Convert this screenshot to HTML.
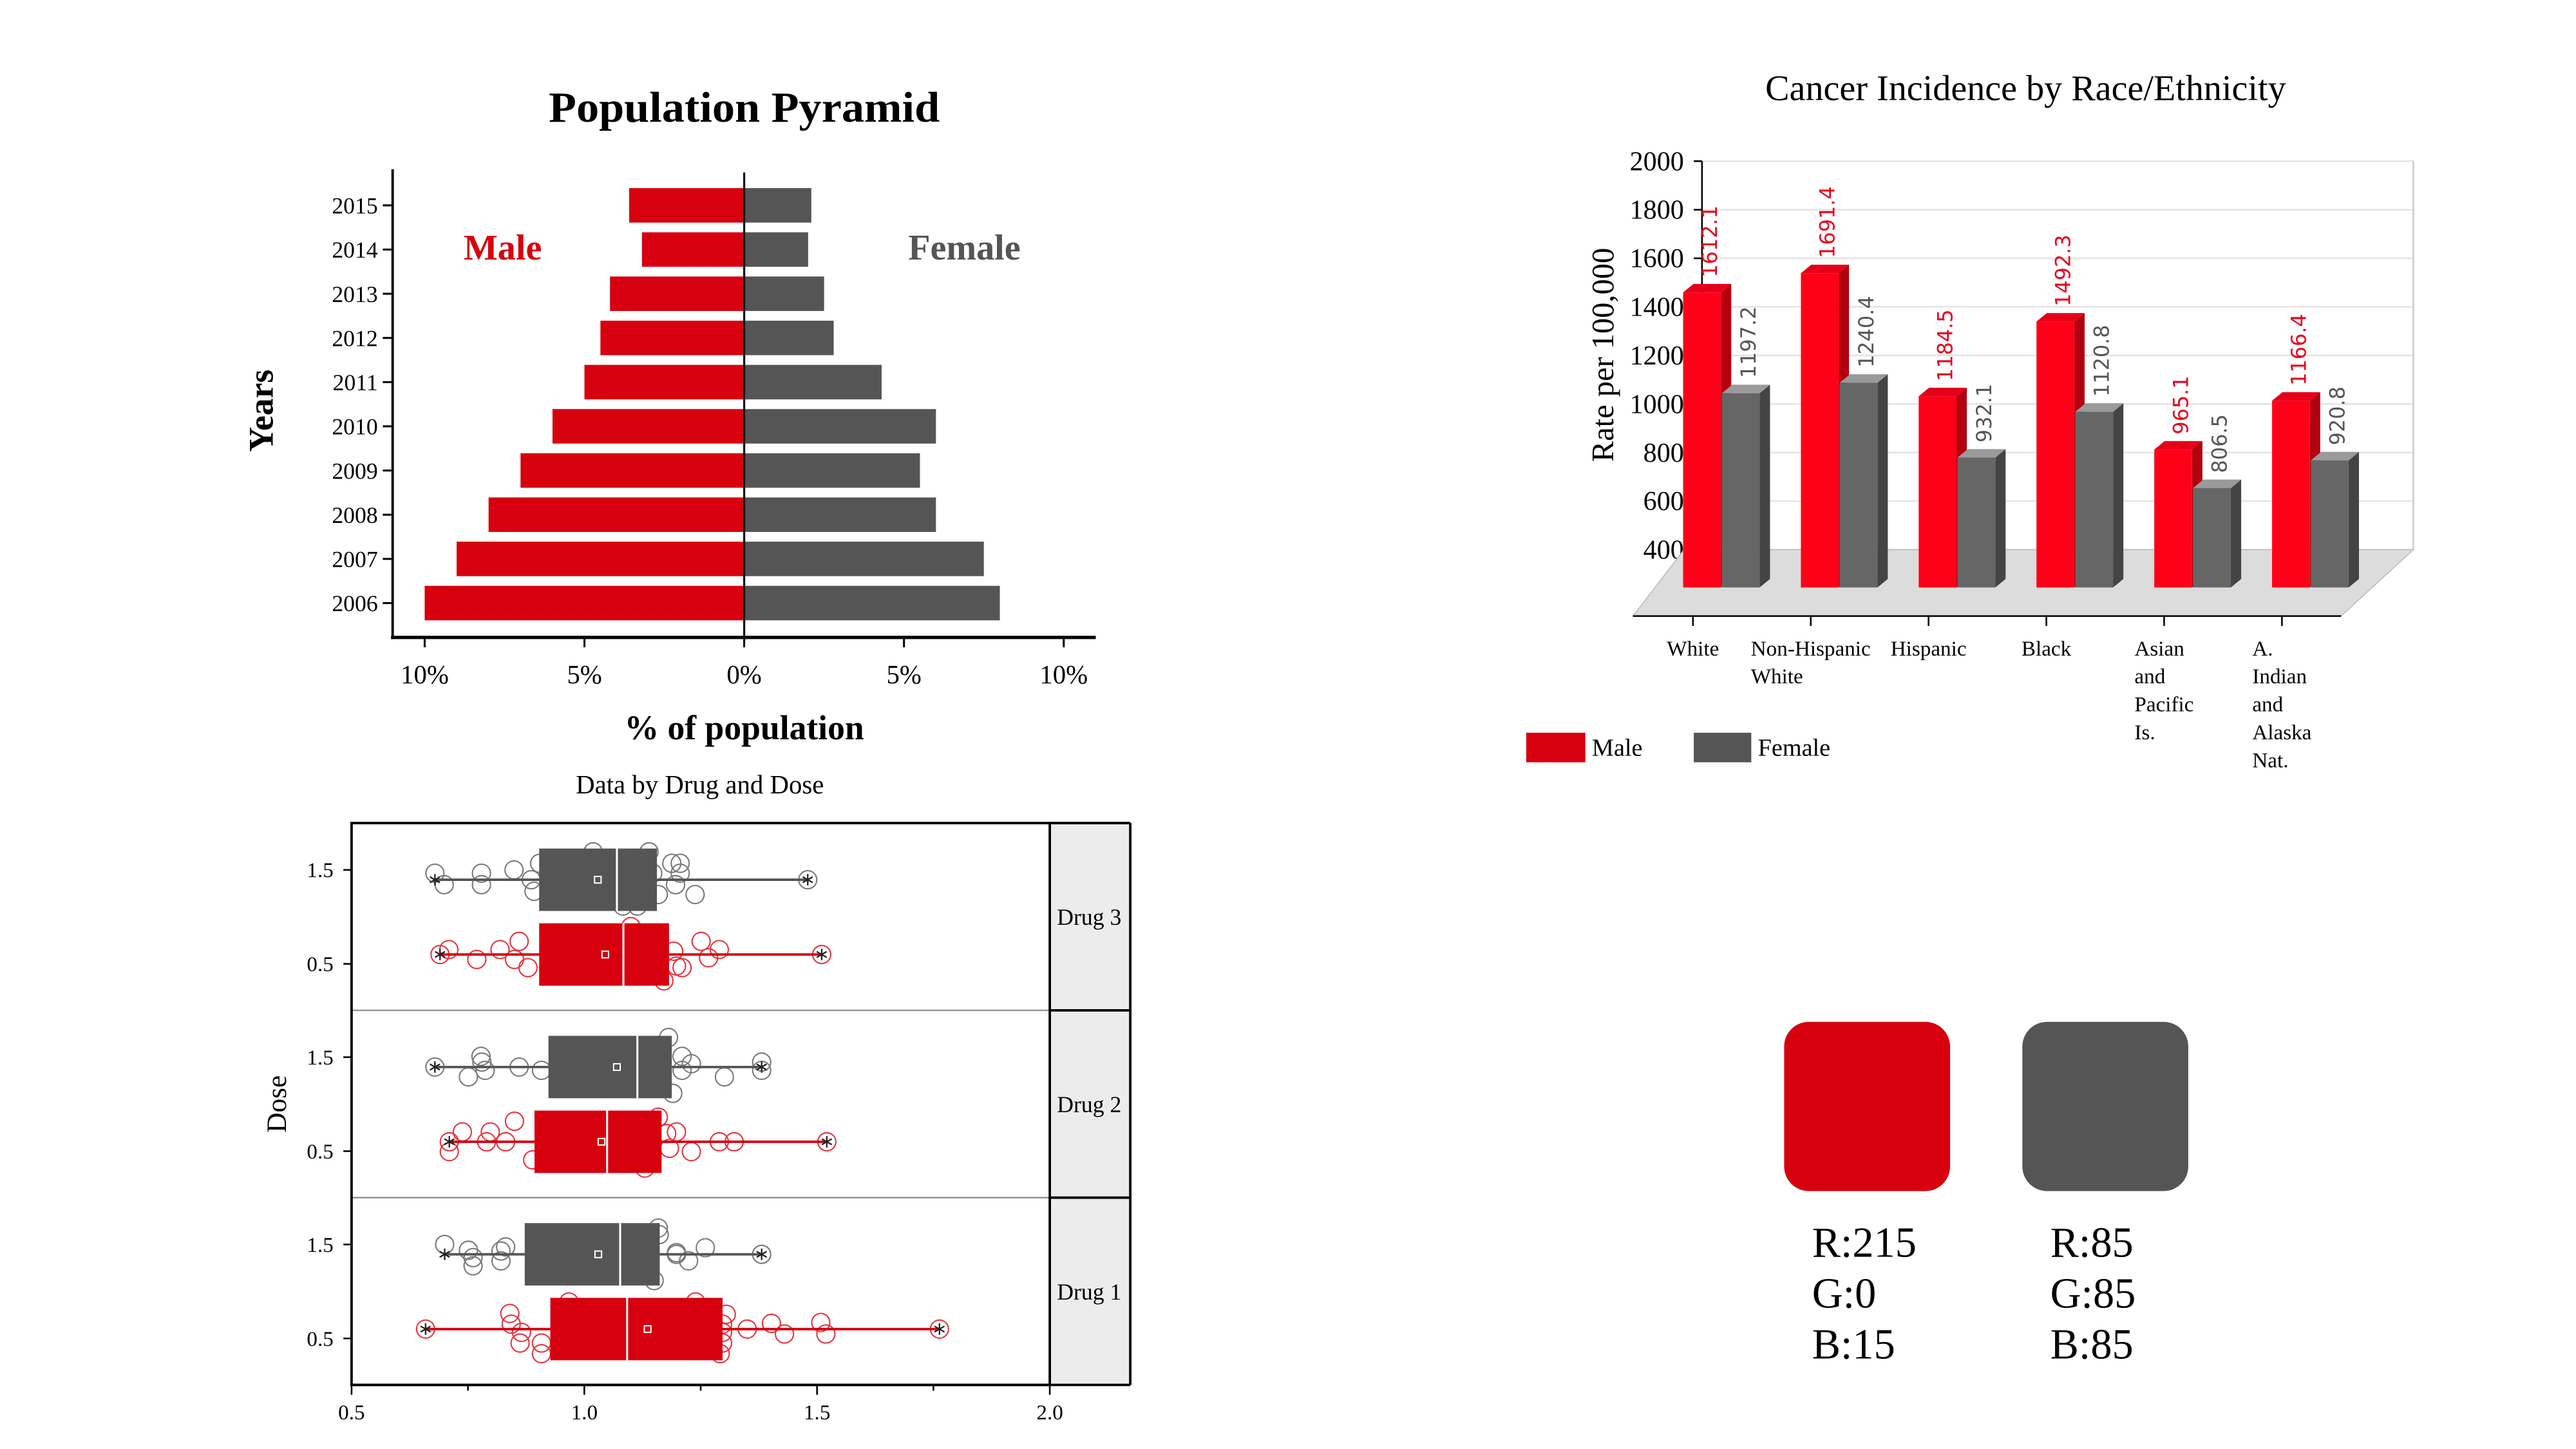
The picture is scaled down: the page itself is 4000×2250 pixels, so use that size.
<!DOCTYPE html>
<html><head><meta charset="utf-8"><style>
html,body{margin:0;padding:0;background:#fff;}
svg{display:block;}
text{font-family:"Liberation Serif",serif;}
</style></head><body>
<svg id="root" width="4000" height="2250" viewBox="0 0 1568 882" xmlns="http://www.w3.org/2000/svg">
<rect width="1568" height="882" fill="#fff"/>
<g id="pyr"></g>
<g id="can"></g>
<g id="box"></g>
<g id="sw">
  <rect x="1086" y="622" width="101" height="103" rx="15" fill="#d7000f"/>
  <rect x="1231" y="622" width="101" height="103" rx="15" fill="#555555"/>
  <text x="1103" y="765" font-size="26">R:215</text>
  <text x="1103" y="796" font-size="26">G:0</text>
  <text x="1103" y="827" font-size="26">B:15</text>
  <text x="1248" y="765" font-size="26">R:85</text>
  <text x="1248" y="796" font-size="26">G:85</text>
  <text x="1248" y="827" font-size="26">B:85</text>
</g>
</svg>
<script>
// ---------- Population pyramid data ----------
const pyrYears = [2015,2014,2013,2012,2011,2010,2009,2008,2007,2006];
const pyrMale = [3.6,3.2,4.2,4.5,5.0,6.0,7.0,8.0,9.0,10.0];
const pyrFemale = [2.1,2.0,2.5,2.8,4.3,6.0,5.5,6.0,7.5,8.0];
const pyrTicks = [-10,-5,0,5,10];
const pyrTickLabels = ["10%","5%","0%","5%","10%"];

// ---------- Cancer chart data ----------
const canCats = [["White"],["Non-Hispanic","White"],["Hispanic"],["Black"],["Asian","and","Pacific","Is."],["A.","Indian","and","Alaska","Nat."]];
const canMale = [1612.1,1691.4,1184.5,1492.3,965.1,1166.4];
const canFemale = [1197.2,1240.4,932.1,1120.8,806.5,920.8];
const canTicks = [400,600,800,1000,1200,1400,1600,1800,2000];

// ---------- Boxplot data ----------
const boxDrugs = ["Drug 1","Drug 2","Drug 3"];
const boxDoseTicks = ["1.5","0.5"];
const boxXTicks = [0.5,1.0,1.5,2.0];
// stats: [whiskerLo, q1, median, q3, whiskerHi, mean]
const statsGray = [[0.700,0.872,1.077,1.162,1.381,1.030],[0.679,0.923,1.114,1.188,1.381,1.070],[0.679,0.903,1.070,1.156,1.480,1.029]];
const statsRed  = [[0.659,0.927,1.092,1.297,1.763,1.136],[0.710,0.893,1.049,1.166,1.521,1.037],[0.690,0.903,1.084,1.182,1.510,1.045]];
const ptsGrayVal = [
 [0.700,0.751,0.761,0.761,0.821,0.821,0.831,1.159,1.161,1.198,1.198,1.224,1.260,1.150,1.381],
 [0.679,0.778,0.780,0.787,0.751,0.860,0.908,1.181,1.210,1.230,1.210,1.301,1.190,1.381,1.381],
 [0.679,0.699,0.779,0.779,0.849,0.886,0.892,0.904,1.019,1.139,1.147,1.159,1.188,1.206,1.206,1.196,1.238,1.083,1.114,1.480]];
const ptsGrayJit = [
 [-6,-2.5,2,7,-2,4,-4.5,-16,-12,-1,0,4,-4,16,0],
 [0,-6.5,-3,2,6,0,2,-18,-6.5,-2,2,6,16,-3,2],
 [-4,3,-4,3,-6,0,7,-10,-17,-17,-4,9,-10,-10,-4,3,9,16,16,0]];
const ptsRedVal = [
 [0.659,0.840,0.843,0.865,0.862,0.908,0.908,0.967,1.239,1.305,1.297,1.297,1.297,1.292,1.350,1.402,1.430,1.508,1.519,1.763],
 [0.710,0.710,0.738,0.798,0.790,0.831,0.850,0.889,1.159,1.177,1.198,1.183,1.230,1.290,1.322,1.130,1.521],
 [0.690,0.709,0.769,0.819,0.850,0.860,0.879,1.100,1.192,1.198,1.210,1.171,1.251,1.267,1.290,1.510]];
const ptsRedJit = [
 [0,-9.5,-3,2,8.5,8.5,15,-16.5,-16.5,-9,-3,2,8.5,15,0,-3.5,3,-4,3,0],
 [0,6,-6,-6,0,0,-12.5,11,-15,-5,-6,4,6,0,0,16,0],
 [0,-3,3,-3,3,-8,8,-17,-2,7,8,16,-8,2,-3,0]];

const NS="http://www.w3.org/2000/svg";
function mk(parent,tag,attrs,txt){const e=document.createElementNS(NS,tag);for(const k in attrs)e.setAttribute(k,attrs[k]);if(txt!==undefined)e.textContent=txt;parent.appendChild(e);return e;}

// ================= Pyramid =================
(function(){
 const g=document.getElementById('pyr');
 const x0=453, unit=19.45, yTop=125, step=26.9, bh=21;
 const px=v=>x0+v*unit, py=i=>yTop+i*step;
 let t=mk(g,'text',{x:453,y:74,'font-size':26,'font-weight':'bold','text-anchor':'middle',textLength:238,lengthAdjust:'spacingAndGlyphs'},'Population Pyramid');
 
 
 pyrYears.forEach((yr,i)=>{
  let r=mk(g,'rect',{x:px(-pyrMale[i]),y:py(i)-bh/2,width:pyrMale[i]*unit,height:bh,fill:'#d7000f'});
  
  
  r=mk(g,'rect',{x:x0,y:py(i)-bh/2,width:pyrFemale[i]*unit,height:bh,fill:'#555555'});
  
  
  mk(g,'line',{x1:233,x2:239,y1:py(i),y2:py(i),stroke:'#000','stroke-width':1.2});
  let l=mk(g,'text',{x:230,y:py(i)+5,'font-size':14,'text-anchor':'end'},String(yr));
  
  
 });
 mk(g,'line',{x1:x0,x2:x0,y1:105,y2:388,stroke:'#000','stroke-width':1.2});
 mk(g,'line',{x1:239,x2:239,y1:103,y2:389,stroke:'#000','stroke-width':1.5});
 mk(g,'line',{x1:238,x2:667,y1:388,y2:388,stroke:'#000','stroke-width':2});
 pyrTicks.forEach((v,i)=>{
  mk(g,'line',{x1:px(v),x2:px(v),y1:388,y2:394,stroke:'#000','stroke-width':1.2});
  let l=mk(g,'text',{x:px(v),y:416,'font-size':16,'text-anchor':'middle'},pyrTickLabels[i]);
  
  
 });
 t=mk(g,'text',{x:453,y:450,'font-size':21,'font-weight':'bold','text-anchor':'middle'},'% of population');
 
 
 t=mk(g,'text',{x:0,y:0,'font-size':21,'font-weight':'bold','text-anchor':'middle',transform:'translate(166,250) rotate(-90)'},'Years');
 
 
 t=mk(g,'text',{x:306,y:158,'font-size':22,'font-weight':'bold','text-anchor':'middle',fill:'#d7000f'},'Male');
 
 
 t=mk(g,'text',{x:587,y:158,'font-size':22,'font-weight':'bold','text-anchor':'middle',fill:'#555555'},'Female');
 
 
})();

// ================= Cancer 3D bars =================
(function(){
 const g=document.getElementById('can');
 const yb=v=>334.6-(v-400)*(236.5/1600);
 const tick0=1030.5, tstep=71.7, bw=23, dx=6.3, dy=5.2, front=22.6, base=357.6;
 let t=mk(g,'text',{x:1233,y:61,'font-size':22,'text-anchor':'middle'},'Cancer Incidence by Race/Ethnicity');
 
 
 canTicks.forEach(v=>{
  mk(g,'line',{x1:1036,x2:1469,y1:yb(v),y2:yb(v),stroke:'#e4e4e4','stroke-width':1});
  mk(g,'line',{x1:1031,x2:1036,y1:yb(v),y2:yb(v),stroke:'#000','stroke-width':1});
  let l=mk(g,'text',{x:1025,y:yb(v)+5.5,'font-size':16.5,'text-anchor':'end'},String(v));
  
  
 });
 mk(g,'line',{x1:1469,x2:1469,y1:yb(2000),y2:yb(400),stroke:'#ccc','stroke-width':1});
 mk(g,'line',{x1:1036,x2:1036,y1:yb(2000),y2:yb(400),stroke:'#000','stroke-width':1});
 let f=mk(g,'polygon',{points:'1025,334.6 1469,334.6 1425,375 994,375',fill:'#dcdcdc',stroke:'#bbb','stroke-width':0.6});
 
 
 mk(g,'line',{x1:994,x2:1425,y1:375,y2:375,stroke:'#000','stroke-width':1});
 function bar(x,v,cF,cT,cS,name){
  const top=yb(v)+front;
  let s=mk(g,'polygon',{points:`${x+bw},${top} ${x+bw+dx},${top-dy} ${x+bw+dx},${base-dy} ${x+bw},${base}`,fill:cS});
  
  
  let tp=mk(g,'polygon',{points:`${x},${top} ${x+dx},${top-dy} ${x+bw+dx},${top-dy} ${x+bw},${top}`,fill:cT});
  
  
  let r=mk(g,'rect',{x:x,y:top,width:bw,height:base-top,fill:cF});
  
  
  return top;
 }
 canCats.forEach((lines,i)=>{
  const tx=tick0+i*tstep;
  const mx=tx-6, fx=mx+bw+0.6;
  let top=bar(mx,canMale[i],'#fe0018','#e5001a','#b3000f','male-bar-'+i);
  let l=mk(g,'text',{x:0,y:0,'font-size':12.5,fill:'#e8001c',style:'font-family:"DejaVu Sans",sans-serif',transform:`translate(${mx+bw/2+9},${top-dy-4}) rotate(-90)`},canMale[i].toFixed(1));
  
  
  top=bar(fx,canFemale[i],'#666666','#9a9a9a','#444444','female-bar-'+i);
  l=mk(g,'text',{x:0,y:0,'font-size':12.5,fill:'#555',style:'font-family:"DejaVu Sans",sans-serif',transform:`translate(${fx+bw/2+9},${top-dy-4}) rotate(-90)`},canFemale[i].toFixed(1));
  
  
  mk(g,'line',{x1:tx,x2:tx,y1:375,y2:381,stroke:'#000','stroke-width':1});
  const grp=mk(g,'g',{});
  
  
  const tes=lines.map((ln,j)=>mk(grp,'text',{x:0,y:399+j*17,'font-size':13},ln));
  let w=Math.max(...tes.map(e=>e.getComputedTextLength()));
  tes.forEach(e=>e.setAttribute('x',tx-w/2));
 });
 t=mk(g,'text',{x:0,y:0,'font-size':19,'text-anchor':'middle',transform:'translate(982,216) rotate(-90)'},'Rate per 100,000');
 
 
 let lg=mk(g,'rect',{x:929,y:446,width:36,height:18,fill:'#d7000f'});
 
 
 t=mk(g,'text',{x:969,y:460,'font-size':15},'Male');
 
 
 lg=mk(g,'rect',{x:1031,y:446,width:35,height:18,fill:'#555555'});
 
 
 t=mk(g,'text',{x:1070,y:460,'font-size':15},'Female');
 
 
})();

// ================= Boxplot =================
(function(){
 const g=document.getElementById('box');
 const L=214,R=639,S=688,T=501,B=843,ph=114;
 const xs=v=>L+(v-0.5)*(R-L)/1.5;
 let t=mk(g,'text',{x:426,y:483,'font-size':16,'text-anchor':'middle'},'Data by Drug and Dose');
 
 
 let st=mk(g,'rect',{x:R,y:T,width:S-R,height:B-T,fill:'#ececec'});
 
 
 for(let k=1;k<3;k++){
  mk(g,'line',{x1:L,x2:R,y1:T+k*ph,y2:T+k*ph,stroke:'#999','stroke-width':1});
  mk(g,'line',{x1:R,x2:S,y1:T+k*ph,y2:T+k*ph,stroke:'#000','stroke-width':1.5});
 }
 function asterisk(x,y,c){
  for(let a=0;a<3;a++){const an=a*Math.PI/3+Math.PI/2;mk(g,'line',{x1:x-3.5*Math.cos(an),y1:y-3.5*Math.sin(an),x2:x+3.5*Math.cos(an),y2:y+3.5*Math.sin(an),stroke:c,'stroke-width':0.9});}
 }
 function drawBox(s,vals,jit,cy,col,name){
  vals.forEach((v,i)=>{
   let c=mk(g,'circle',{cx:xs(v),cy:cy+jit[i],r:5.5,fill:'none',stroke:col==='#d7000f'?'#e8303a':'#777','stroke-width':0.8});
   
   
  });
  let w=mk(g,'line',{x1:xs(s[0]),x2:xs(s[4]),y1:cy,y2:cy,stroke:col,'stroke-width':1.5});
  
  
  asterisk(xs(s[0]),cy,'#222');asterisk(xs(s[4]),cy,'#222');
  let r=mk(g,'rect',{x:xs(s[1]),y:cy-19,width:xs(s[3])-xs(s[1]),height:38,fill:col});
  
  
  mk(g,'line',{x1:xs(s[2]),x2:xs(s[2]),y1:cy-19,y2:cy+19,stroke:'#fff','stroke-width':1.2});
  let m=mk(g,'rect',{x:xs(s[5])-2,y:cy-2,width:4,height:4,fill:'none',stroke:'#fff','stroke-width':0.8});
  
  
 }
 boxDrugs.forEach((d,i)=>{
  const pT=T+(2-i)*ph;
  drawBox(statsGray[i],ptsGrayVal[i],ptsGrayJit[i],pT+34.5,'#555555',d.replace(' ','').toLowerCase()+'-dose-1.5');
  drawBox(statsRed[i],ptsRedVal[i],ptsRedJit[i],pT+80,'#d7000f',d.replace(' ','').toLowerCase()+'-dose-0.5');
  [pT+28.5,pT+85.7].forEach((yy,j)=>{
   mk(g,'line',{x1:209,x2:214,y1:yy,y2:yy,stroke:'#000','stroke-width':1});
   let l=mk(g,'text',{x:203,y:yy+4.5,'font-size':13,'text-anchor':'end'},boxDoseTicks[j]);
   
   
  });
  let l=mk(g,'text',{x:663,y:pT+ph/2+5,'font-size':14,'text-anchor':'middle'},d);
  
  
 });
 mk(g,'rect',{x:L,y:T,width:R-L,height:B-T,fill:'none',stroke:'#000','stroke-width':1.5});
 mk(g,'line',{x1:R,x2:S,y1:T,y2:T,stroke:'#000','stroke-width':1.5});
 mk(g,'line',{x1:S,x2:S,y1:T,y2:B,stroke:'#000','stroke-width':1.5});
 mk(g,'line',{x1:L,x2:S,y1:B,y2:B,stroke:'#000','stroke-width':1.5});
 boxXTicks.forEach(v=>{
  mk(g,'line',{x1:xs(v),x2:xs(v),y1:B,y2:B+6,stroke:'#000','stroke-width':1});
  let l=mk(g,'text',{x:xs(v),y:864,'font-size':13,'text-anchor':'middle'},v.toFixed(1));
  
  
 });
 [0.75,1.25,1.75].forEach(v=>mk(g,'line',{x1:xs(v),x2:xs(v),y1:B,y2:B+3.5,stroke:'#000','stroke-width':1}));
 t=mk(g,'text',{x:0,y:0,'font-size':17,'text-anchor':'middle',transform:'translate(174,672) rotate(-90)'},'Dose');
 
 
})();
</script>
</body></html>
